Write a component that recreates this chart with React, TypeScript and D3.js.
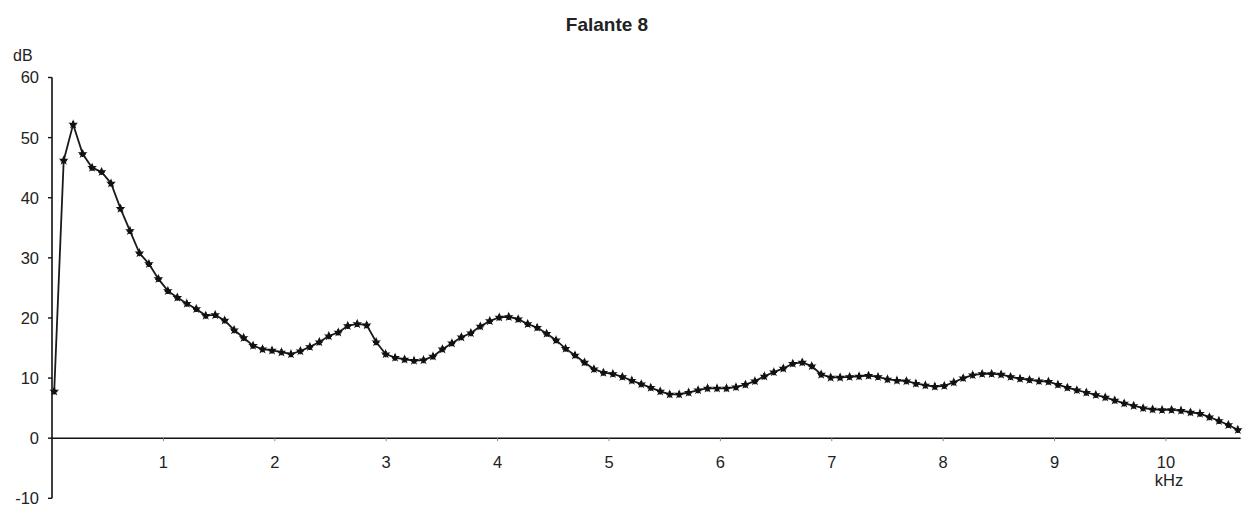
import React from 'react';
import * as d3 from 'd3';

const TITLE = 'Falante 8';
const Y_TICKS = [-10, 0, 10, 20, 30, 40, 50, 60];
const X_TICKS = [1, 2, 3, 4, 5, 6, 7, 8, 9, 10];

// sampled every 0.085 kHz starting at 0.02 kHz
const START_KHZ = 0.02;
const STEP_KHZ = 0.085;
const levelDb = [
  7.8, 46.2, 52.2, 47.3, 45.0, 44.3, 42.4, 38.2, 34.5, 30.8,
  29.0, 26.5, 24.5, 23.4, 22.4, 21.5, 20.4, 20.5, 19.6, 18.0,
  16.7, 15.4, 14.8, 14.6, 14.3, 14.0, 14.5, 15.2, 16.0, 17.0,
  17.6, 18.7, 19.0, 18.8, 16.0, 14.0, 13.4, 13.1, 12.9, 13.0,
  13.6, 14.8, 15.8, 16.8, 17.5, 18.6, 19.5, 20.1, 20.2, 19.8,
  19.0, 18.4, 17.4, 16.3, 14.9, 13.8, 12.6, 11.5, 10.9, 10.7,
  10.2, 9.6, 9.0, 8.4, 7.8, 7.3, 7.3, 7.6, 8.0, 8.3,
  8.3, 8.3, 8.5, 8.9, 9.5, 10.3, 11.0, 11.6, 12.4, 12.6,
  12.0, 10.6, 10.1, 10.1, 10.2, 10.3, 10.4, 10.2, 9.8, 9.6,
  9.5, 9.1, 8.8, 8.6, 8.7, 9.3, 10.0, 10.5, 10.7, 10.7,
  10.6, 10.2, 9.9, 9.7, 9.5, 9.4, 8.9, 8.4, 8.0, 7.6,
  7.2, 6.8, 6.3, 5.8, 5.4, 5.0, 4.8, 4.7, 4.7, 4.6,
  4.3, 4.1, 3.5, 2.9, 2.2, 1.4,
];

const W = 1246;
const H = 513;
const FONT = 'Liberation Sans, Arial, Helvetica, sans-serif';

export default function App() {
  const x = d3.scaleLinear().domain([0, 10.67]).range([52, 1240.6]);
  const y = d3.scaleLinear().domain([-10, 60]).range([498.3, 77.5]);

  const points = levelDb.map((v, i) => [START_KHZ + i * STEP_KHZ, v] as [number, number]);

  const line = d3.line<[number, number]>()
    .x(d => x(d[0]))
    .y(d => y(d[1]));

  const star = d3.symbol().type(d3.symbolStar).size(30)();
  const cross = d3.symbol().type(d3.symbolCross).size(22)();

  return (
    <svg width={W} height={H} style={{ position: 'absolute', left: 0, top: 0, background: '#fff' }}
      fontFamily={FONT}>
      <text x={607} y={31} textAnchor="middle" fontSize={19} fontWeight="bold" fill="#222">{TITLE}</text>

      {/* y axis */}
      <text x={13} y={61} fontSize={16} fill="#222">dB</text>
      <line x1={x(0)} x2={x(0)} y1={y(60)} y2={y(-10)} stroke="#111" strokeWidth={1.6} />
      {Y_TICKS.map(t => (
        <g key={t}>
          <line x1={x(0) - 4} x2={x(0)} y1={y(t)} y2={y(t)} stroke="#111" strokeWidth={1.4} />
          <text x={39} y={y(t)} dy="0.36em" textAnchor="end" fontSize={16.5} fill="#222">{t}</text>
        </g>
      ))}

      {/* x axis along 0 dB */}
      <line x1={x(0)} x2={x(10.67)} y1={y(0)} y2={y(0)} stroke="#111" strokeWidth={1.6} />
      {X_TICKS.map(t => (
        <g key={t}>
          <line x1={x(t)} x2={x(t)} y1={y(0)} y2={y(0) + 3} stroke="#888" strokeWidth={1} />
          <text x={x(t)} y={468} textAnchor="middle" fontSize={16.5} fill="#222">{t}</text>
        </g>
      ))}
      <text x={x(10) + 3} y={486} textAnchor="middle" fontSize={16.5} fill="#222">kHz</text>

      <path d={line(points) || ''} fill="none" stroke="#1a1a1a" strokeWidth={1.8} />
      {points.map((p, i) => (
        <g key={i} transform={`translate(${x(p[0])},${y(p[1])})`} fill="#111">
          <path d={star || ''} />
          <path d={cross || ''} />
        </g>
      ))}
    </svg>
  );
}
